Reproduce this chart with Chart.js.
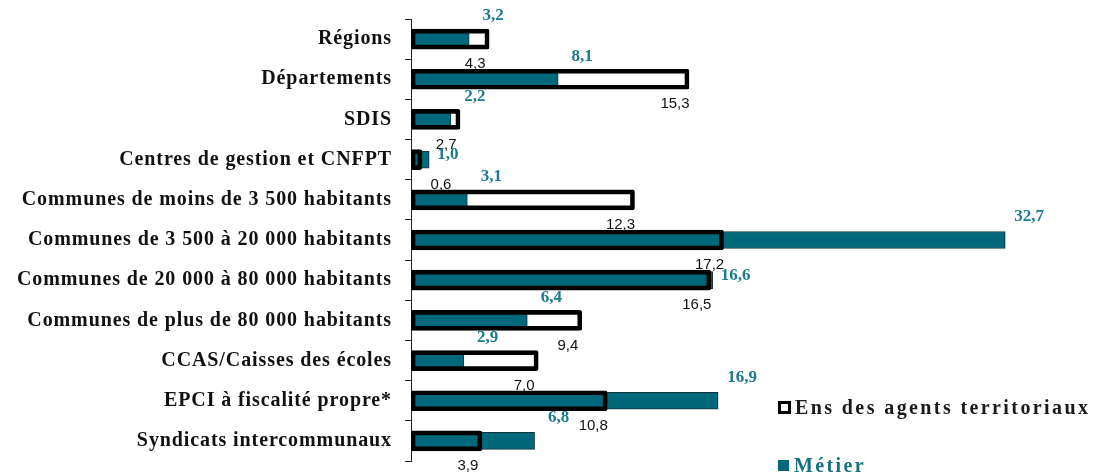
<!DOCTYPE html>
<html>
<head>
<meta charset="utf-8">
<script src="https://cdn.jsdelivr.net/npm/chart.js@4.4.1/dist/chart.umd.min.js"></script>
<style>
  html, body { margin: 0; padding: 0; background: #fff; }
  #wrap { position: relative; width: 1096px; height: 473px; }
  #legend { position: absolute; left: 778px; top: 396px; font-family: "Liberation Serif", serif; font-weight: bold; font-size: 20px; }
  .li { position: absolute; white-space: nowrap; display: flex; align-items: center; }
  .sw { display: inline-block; margin-right: 5px; box-sizing: border-box; }
</style>
</head>
<body>
<div id="wrap">
  <canvas id="c" width="1096" height="473"></canvas>
  <div id="legend">
    <div class="li" style="top:0px;left:0px;color:#1a1a1a;letter-spacing:2.4px;"><span class="sw" style="width:13px;height:13px;border:3px solid #000;background:#fff;margin-right:4px;"></span>Ens des agents territoriaux</div>
    <div class="li" style="top:58px;left:0px;color:#17707f;letter-spacing:2.4px;"><span class="sw" style="width:11px;height:11px;background:#00687a;"></span>Métier</div>
  </div>
</div>
<script>
const categories = [
  "Régions",
  "Départements",
  "SDIS",
  "Centres de gestion et CNFPT",
  "Communes de moins de 3 500 habitants",
  "Communes de 3 500 à 20 000 habitants",
  "Communes de 20 000 à 80 000 habitants",
  "Communes de plus de 80 000 habitants",
  "CCAS/Caisses des écoles",
  "EPCI à fiscalité propre*",
  "Syndicats intercommunaux"
];
const ensValues = [4.3, 15.3, 2.7, 0.6, 12.3, 17.2, 16.5, 9.4, 7.0, 10.8, 3.9];
const metierValues = [3.2, 8.1, 2.2, 1.0, 3.1, 32.7, 16.6, 6.4, 2.9, 16.9, 6.8];
const seriesNames = ["Ens des agents territoriaux", "Métier"];

const TEAL = '#00687a';
const TEAL_TEXT = '#1b7b8b';

function fmt(v) { return v.toFixed(1).replace('.', ','); }

const spacingPlugin = {
  id: 'catSpacing',
  beforeDraw(chart) { chart.ctx.letterSpacing = '0.9px'; },
  afterDraw(chart) { chart.ctx.letterSpacing = '0px'; }
};

const labelPlugin = {
  id: 'valueLabels',
  afterDatasetsDraw(chart) {
    const ctx = chart.ctx;
    const ensMeta = chart.getDatasetMeta(0);
    const metMeta = chart.getDatasetMeta(1);
    const xs = chart.scales.x;
    const base = xs.getPixelForValue(0);
    ctx.save();
    ctx.letterSpacing = '0px';
    ctx.textBaseline = 'middle';
    const blackFont = '15px "Liberation Sans", Arial, sans-serif';
    const tealFont = 'bold 17px "Liberation Serif", serif';
    const blackBoxes = [];
    ctx.font = blackFont;
    ensMeta.data.forEach((el, i) => {
      const txt = fmt(ensValues[i]);
      const w = ctx.measureText(txt).width;
      const cx = Math.max(el.x - 14, base + 30);
      const cy = el.y + 25;
      blackBoxes.push({x0: cx - w / 2, x1: cx + w / 2, y0: cy - 7, y1: cy + 7});
      ctx.fillStyle = '#111';
      ctx.textAlign = 'center';
      ctx.fillText(txt, cx, cy);
    });
    ctx.font = tealFont;
    metMeta.data.forEach((el, i) => {
      const txt = fmt(metierValues[i]);
      const w = ctx.measureText(txt).width;
      let cx = el.x + 24;
      let cy = el.y - 23;
      const prev = i > 0 ? blackBoxes[i - 1] : null;
      if (prev && cx + w / 2 > prev.x0 && cx - w / 2 < prev.x1) {
        cx = el.x + 8 + w / 2;
        cy = el.y - 5;
      }
      ctx.fillStyle = TEAL_TEXT;
      ctx.textAlign = 'center';
      ctx.fillText(txt, cx, cy);
    });
    ctx.restore();
  }
};

new Chart(document.getElementById('c'), {
  type: 'bar',
  data: {
    labels: categories,
    datasets: [
      {
        label: seriesNames[0],
        data: ensValues,
        backgroundColor: 'rgba(255,255,255,0)',
        borderColor: '#000',
        borderWidth: 4,
        borderSkipped: false,
        borderRadius: 2,
        barThickness: 20,
        grouped: false
      },
      {
        label: seriesNames[1],
        data: metierValues,
        backgroundColor: TEAL,
        borderColor: '#12333a',
        borderWidth: 1,
        borderSkipped: false,
        barThickness: 17,
        grouped: false
      }
    ]
  },
  options: {
    indexAxis: 'y',
    responsive: false,
    animation: false,
    layout: { padding: { left: 0, right: 49, top: 19, bottom: 12 } },
    plugins: {
      legend: { display: false },
      tooltip: { enabled: false }
    },
    scales: {
      x: {
        display: false,
        min: 0,
        max: 35
      },
      y: {
        afterFit(scale) { scale.width = 411; scale.paddingTop = 0; scale.paddingBottom = 0; },
        grid: {
          display: true,
          drawOnChartArea: false,
          drawTicks: true,
          tickLength: 6,
          color: '#222',
          offset: true
        },
        border: { display: true, color: '#222', width: 1 },
        ticks: {
          padding: 13,
          color: '#111',
          font: { family: '"Liberation Serif", serif', weight: 'bold', size: 20 }
        }
      }
    }
  },
  plugins: [spacingPlugin, labelPlugin]
});
</script>
</body>
</html>
